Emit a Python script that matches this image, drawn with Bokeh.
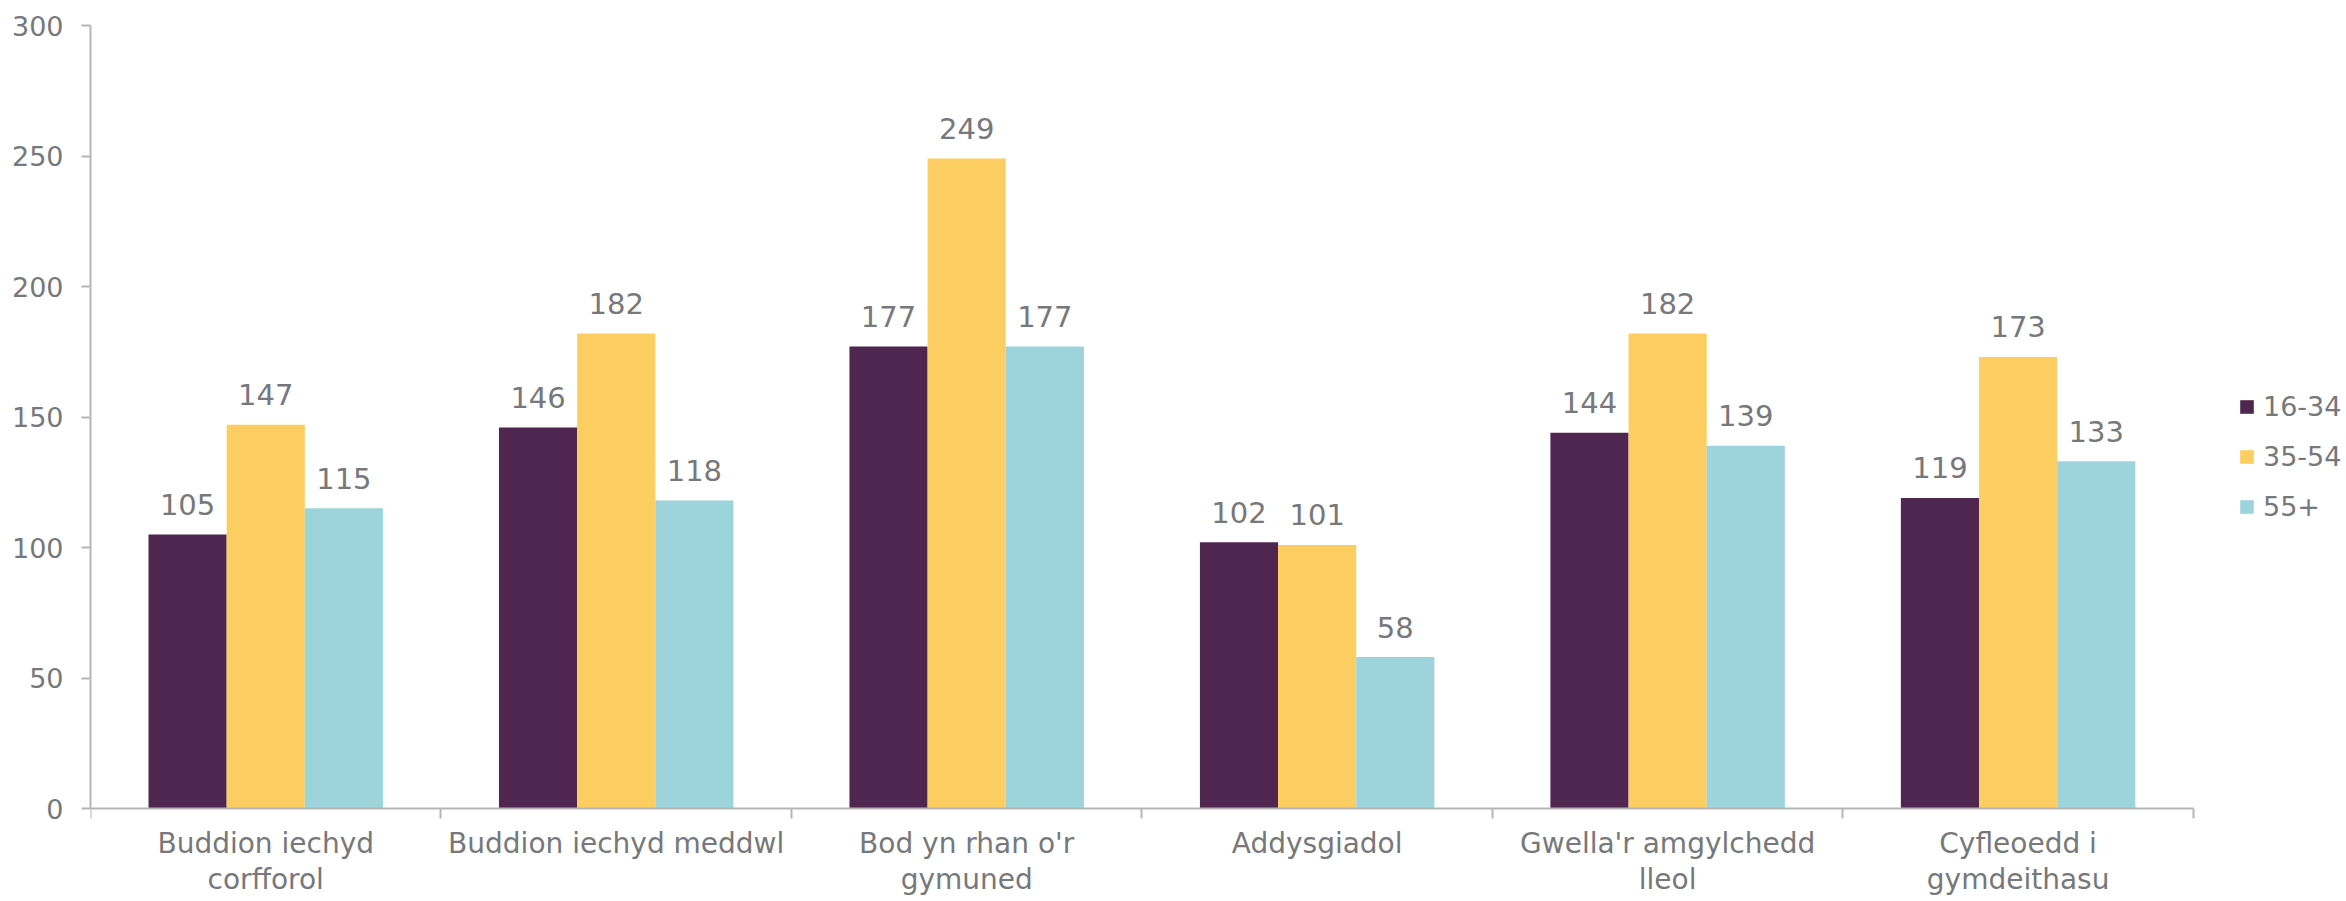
from bokeh.plotting import figure
from bokeh.models import Range1d, FixedTicker, Legend, LegendItem, ColumnDataSource
from bokeh.core.properties import value
from bokeh.embed import file_html
from bokeh.resources import INLINE

categories = ["Buddion iechyd\ncorfforol", "Buddion iechyd meddwl", "Bod yn rhan o'r\ngymuned",
              "Addysgiadol", "Gwella'r amgylchedd\nlleol", "Cyfleoedd i\ngymdeithasu"]
series_names = ["16-34", "35-54", "55+"]
v_16_34 = [105, 146, 177, 102, 144, 119]
v_35_54 = [147, 182, 249, 101, 182, 173]
v_55_plus = [115, 118, 177, 58, 139, 133]
colors = ["#4F2650", "#FCCE62", "#9DD4DC"]
y_ticks = [0, 50, 100, 150, 200, 250, 300]

FONT = "DejaVu Sans"
TXT = "#76787B"
AX = "#B5B5B5"

n = len(categories)
p = figure(width=2346, height=901, output_backend="svg", toolbar_location=None,
           x_range=Range1d(0, 6.437), y_range=Range1d(-35.63, 300),
           min_border_left=90, min_border_right=0, min_border_top=25, min_border_bottom=0)
p.outline_line_color = None
p.grid.visible = False
p.background_fill_color = "white"

bw = 0.223
items = []
for j, (name, vals, col) in enumerate(zip(series_names, [v_16_34, v_35_54, v_55_plus], colors)):
    xs = [i + 0.5 + (j - 1) * bw for i in range(n)]
    src = ColumnDataSource(dict(x=xs, top=vals, lab=[str(v) for v in vals]))
    r = p.vbar(x="x", top="top", bottom=0, width=bw, source=src, fill_color=col, line_color=None)
    p.text(x="x", y="top", text="lab", source=src, text_align="center", text_baseline="alphabetic",
           y_offset=-30, text_font=value(FONT), text_font_size="29px", text_color=TXT)
    items.append(LegendItem(label=name, renderers=[r]))

xa = p.xaxis[0]
xa.fixed_location = 0
xa.bounds = (0, n)
xa.ticker = FixedTicker(ticks=[i + 0.5 for i in range(n)], minor_ticks=list(range(n + 1)))
xa.major_label_overrides = {i + 0.5: c for i, c in enumerate(categories)}
xa.major_tick_line_color = None
xa.major_tick_out = 0
xa.minor_tick_in = 0
xa.minor_tick_out = 10
xa.minor_tick_line_color = AX
xa.minor_tick_line_width = 2
xa.axis_line_color = AX
xa.axis_line_width = 2
xa.major_label_text_font = FONT
xa.major_label_text_font_size = "28px"
xa.major_label_text_color = TXT
xa.major_label_text_line_height = 1.12
xa.major_label_standoff = 8

ya = p.yaxis[0]
ya.bounds = (0, 300)
ya.ticker = FixedTicker(ticks=y_ticks)
ya.minor_tick_line_color = None
ya.major_tick_in = 0
ya.major_tick_out = 9
ya.major_tick_line_color = AX
ya.major_tick_line_width = 2
ya.axis_line_color = AX
ya.axis_line_width = 2
ya.major_label_text_font = FONT
ya.major_label_text_font_size = "27px"
ya.major_label_text_color = TXT
ya.major_label_standoff = 18

legend = Legend(items=items, location=(2148, 379), glyph_width=17, glyph_height=17,
                label_standoff=8, spacing=19, padding=0, margin=0,
                label_text_font=FONT, label_text_font_size="27px", label_text_color=TXT,
                border_line_color=None, background_fill_alpha=0)
p.add_layout(legend, "center")

open("out.html", "w").write(file_html(p, INLINE))
